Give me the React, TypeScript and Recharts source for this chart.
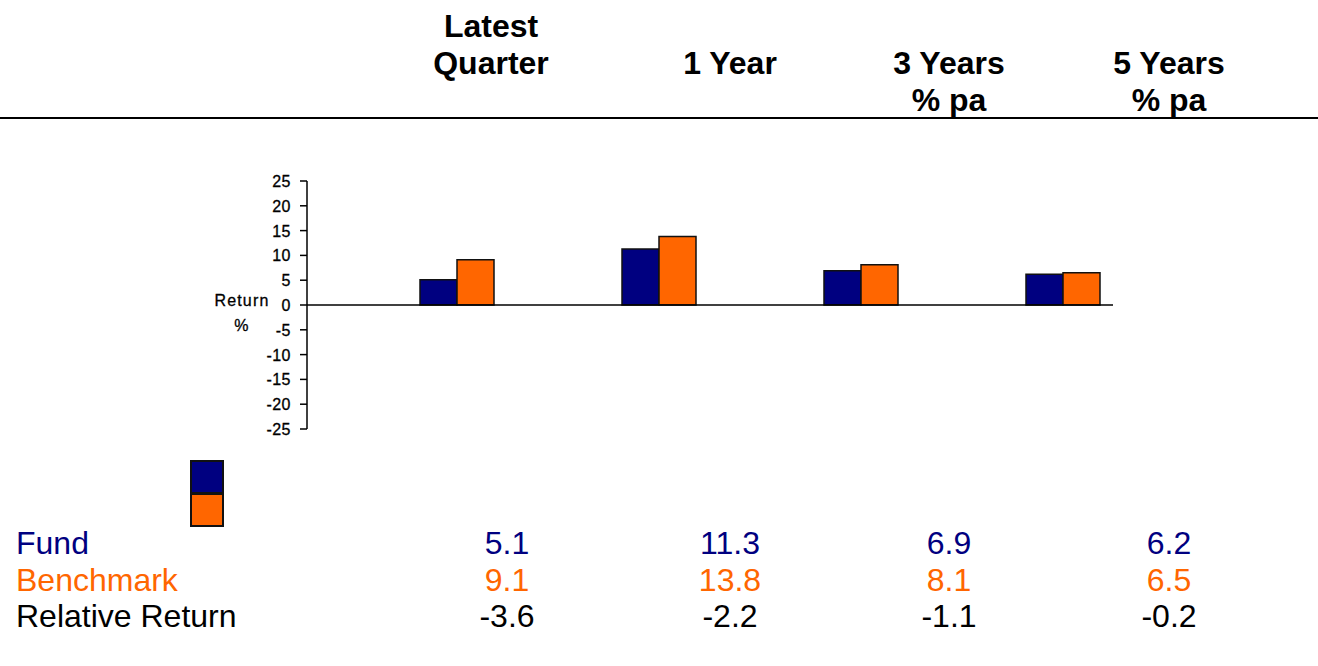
import React from "react";
import { BarChart, Bar, XAxis, YAxis, ReferenceLine } from "recharts";

const categories = ["Latest Quarter", "1 Year", "3 Years % pa", "5 Years % pa"];
const headerLines = [
  ["Latest", "Quarter", ""],
  ["", "1 Year", ""],
  ["", "3 Years", "% pa"],
  ["", "5 Years", "% pa"],
];
const fundValues = [5.1, 11.3, 6.9, 6.2];
const benchmarkValues = [9.1, 13.8, 8.1, 6.5];
const relativeValues = [-3.6, -2.2, -1.1, -0.2];
const yTicks = [25, 20, 15, 10, 5, 0, -5, -10, -15, -20, -25];

const FUND = "#000080";
const BENCH = "#FF6600";

const data = categories.map((c, i) => ({
  name: c,
  fund: fundValues[i],
  benchmark: benchmarkValues[i],
}));

const headerX = [491, 730, 949, 1169];
const valueX = [507, 730, 949, 1169];
const font = "Arial, 'Liberation Sans', Helvetica, sans-serif";

const YLabel = (props: any) => {
  const vb = props.viewBox || {};
  const cx = 242;
  const cy = vb.y + vb.height / 2;
  return (
    <text
      textAnchor="middle"
      fontSize={16}
      fontFamily={font}
      fill="#000"
      stroke="#000"
      strokeWidth={0.3}
      letterSpacing={1.2}
    >
      <tspan x={cx} y={cy + 1}>Return</tspan>
      <tspan x={cx} y={cy + 26}>%</tspan>
    </text>
  );
};

const YTick = (props: any) => {
  const { x, y, payload } = props;
  return (
    <text
      x={x}
      y={y}
      dy={6}
      textAnchor="end"
      fontSize={16}
      fontFamily={font}
      fill="#000"
      stroke="#000"
      strokeWidth={0.3}
      letterSpacing={0.5}
    >
      {payload.value}
    </text>
  );
};

const fmt = (v: number) => v.toFixed(1);

export default function App() {
  const rows = [
    { label: "Fund", values: fundValues, color: FUND, y: 555 },
    { label: "Benchmark", values: benchmarkValues, color: BENCH, y: 592 },
    { label: "Relative Return", values: relativeValues, color: "#000", y: 628 },
  ];
  return (
    <div
      style={{
        position: "absolute",
        left: 0,
        top: 0,
        width: 1318,
        height: 666,
        background: "#fff",
        fontFamily: font,
        overflow: "hidden",
      }}
    >
      {headerLines.map((lines, i) =>
        lines.map((t, j) =>
          t ? (
            <div
              key={`h${i}-${j}`}
              style={{
                position: "absolute",
                left: headerX[i] - 100,
                width: 200,
                top: 38 + j * 37 - 30,
                textAlign: "center",
                fontWeight: "bold",
                fontSize: 32,
                lineHeight: "36px",
              }}
            >
              {t}
            </div>
          ) : null
        )
      )}
      <div
        style={{
          position: "absolute",
          left: 0,
          top: 117,
          width: 1318,
          height: 2,
          background: "#000",
        }}
      />

      <div style={{ position: "absolute", left: 0, top: 0 }}>
        <BarChart
          width={1318}
          height={666}
          data={data}
          barGap={0}
          barSize={37}
          margin={{ top: 181, right: 205, bottom: 237, left: 207 }}
        >
          <XAxis dataKey="name" hide padding={{ left: 49, right: -51 }} />
          <YAxis
            width={100}
            domain={[-25, 25]}
            ticks={yTicks}
            interval={0}
            tickSize={7}
            tickMargin={9}
            axisLine={{ stroke: "#000", strokeWidth: 1.5 }}
            tickLine={{ stroke: "#000", strokeWidth: 1.5 }}
            tick={<YTick />}
            label={<YLabel />}
          />
          <ReferenceLine y={0} stroke="#000" strokeWidth={1.5} />
          <Bar
            dataKey="fund"
            fill={FUND}
            stroke="#111"
            strokeWidth={1.5}
            isAnimationActive={false}
          />
          <Bar
            dataKey="benchmark"
            fill={BENCH}
            stroke="#111"
            strokeWidth={1.5}
            isAnimationActive={false}
          />
        </BarChart>
      </div>

      {[FUND, BENCH].map((c, i) => (
        <div
          key={c}
          style={{
            position: "absolute",
            left: 190,
            top: 460 + i * 33,
            width: 30,
            height: 30,
            background: c,
            border: "2px solid #111",
          }}
        />
      ))}

      {rows.map((r) => (
        <React.Fragment key={r.label}>
          <div
            style={{
              position: "absolute",
              left: 16,
              top: r.y - 30,
              fontSize: 32,
              lineHeight: "36px",
              color: r.color,
              whiteSpace: "nowrap",
            }}
          >
            {r.label}
          </div>
          {r.values.map((v, i) => (
            <div
              key={i}
              style={{
                position: "absolute",
                left: valueX[i] - 80,
                width: 160,
                top: r.y - 30,
                textAlign: "center",
                fontSize: 32,
                lineHeight: "36px",
                color: r.color,
              }}
            >
              {fmt(v)}
            </div>
          ))}
        </React.Fragment>
      ))}
    </div>
  );
}
